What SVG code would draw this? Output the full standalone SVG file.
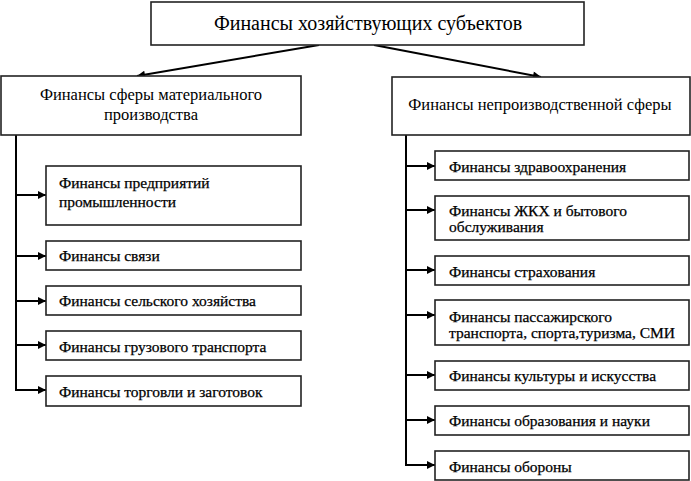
<svg xmlns="http://www.w3.org/2000/svg" width="691" height="481" viewBox="0 0 691 481">
<style>
.box{fill:#fff;stroke:#222;stroke-width:1.6}
.t{font-family:"Liberation Serif","Times New Roman",serif;fill:#000}
.big{font-size:20px}
.mid{font-size:16.5px}
.sm{font-size:15.5px;stroke:#000;stroke-width:0.25}
.c{stroke:#000;stroke-width:2;fill:none}
</style>
<defs>
<marker id="ah" viewBox="0 0 10 10" refX="10" refY="5" markerWidth="10" markerHeight="8" markerUnits="userSpaceOnUse" orient="auto">
<path d="M0,0 L10,5 L0,10 z" fill="#000"/>
</marker>
</defs>
<rect width="691" height="481" fill="#fff"/>
<g id="connectors">
<line class="c" x1="319" y1="45" x2="137" y2="76" marker-end="url(#ah)"/>
<line class="c" x1="374" y1="45" x2="541" y2="77" marker-end="url(#ah)"/>
<polyline class="c" points="16,135 16,390"/>
<line class="c" x1="16" y1="195" x2="46" y2="195" marker-end="url(#ah)"/>
<line class="c" x1="16" y1="256" x2="46" y2="256" marker-end="url(#ah)"/>
<line class="c" x1="16" y1="301" x2="46" y2="301" marker-end="url(#ah)"/>
<line class="c" x1="16" y1="345" x2="46" y2="345" marker-end="url(#ah)"/>
<line class="c" x1="15" y1="390" x2="46" y2="390" marker-end="url(#ah)"/>
<polyline class="c" points="406,135 406,465"/>
<line class="c" x1="406" y1="166" x2="435" y2="166" marker-end="url(#ah)"/>
<line class="c" x1="406" y1="210" x2="435" y2="210" marker-end="url(#ah)"/>
<line class="c" x1="406" y1="270" x2="435" y2="270" marker-end="url(#ah)"/>
<line class="c" x1="406" y1="315" x2="435" y2="315" marker-end="url(#ah)"/>
<line class="c" x1="406" y1="375" x2="435" y2="375" marker-end="url(#ah)"/>
<line class="c" x1="406" y1="420" x2="435" y2="420" marker-end="url(#ah)"/>
<line class="c" x1="405" y1="465" x2="435" y2="465" marker-end="url(#ah)"/>
</g>
<g id="root">
<rect class="box" x="151" y="2" width="433" height="43"/>
<text class="t big" x="368" y="30" text-anchor="middle">Финансы хозяйствующих субъектов</text>
</g>
<g id="material">
<rect class="box" x="1" y="76" width="300" height="59"/>
<text class="t mid" x="151" y="100" text-anchor="middle">Финансы сферы материального</text>
<text class="t mid" x="151" y="120" text-anchor="middle">производства</text>
</g>
<g id="nonprod">
<rect class="box" x="392" y="77" width="298" height="58"/>
<text class="t mid" x="540" y="110" text-anchor="middle">Финансы непроизводственной сферы</text>
</g>
<g id="l1">
<rect class="box" x="46" y="166" width="255" height="59"/>
<text class="t sm" x="59" y="188">Финансы предприятий</text>
<text class="t sm" x="59" y="207">промышленности</text>
</g>
<g id="l2">
<rect class="box" x="46" y="241" width="255" height="29"/>
<text class="t sm" x="59" y="261">Финансы связи</text>
</g>
<g id="l3">
<rect class="box" x="46" y="286" width="255" height="29"/>
<text class="t sm" x="59" y="306">Финансы сельского хозяйства</text>
</g>
<g id="l4">
<rect class="box" x="46" y="331" width="255" height="29"/>
<text class="t sm" x="59" y="352">Финансы грузового транспорта</text>
</g>
<g id="l5">
<rect class="box" x="46" y="376" width="255" height="30"/>
<text class="t sm" x="59" y="397">Финансы торговли и заготовок</text>
</g>
<g id="r1">
<rect class="box" x="435" y="151" width="254" height="29"/>
<text class="t sm" x="449" y="172">Финансы здравоохранения</text>
</g>
<g id="r2">
<rect class="box" x="435" y="196" width="254" height="44"/>
<text class="t sm" x="449" y="216">Финансы ЖКХ и бытового</text>
<text class="t sm" x="449" y="232">обслуживания</text>
</g>
<g id="r3">
<rect class="box" x="435" y="256" width="254" height="29"/>
<text class="t sm" x="449" y="277">Финансы страхования</text>
</g>
<g id="r4">
<rect class="box" x="435" y="300" width="254" height="45"/>
<text class="t sm" x="449" y="322">Финансы пассажирского</text>
<text class="t sm" x="449" y="338">транспорта, спорта,туризма, СМИ</text>
</g>
<g id="r5">
<rect class="box" x="435" y="361" width="254" height="29"/>
<text class="t sm" x="449" y="381">Финансы культуры и  искусства</text>
</g>
<g id="r6">
<rect class="box" x="435" y="406" width="254" height="29"/>
<text class="t sm" x="449" y="426">Финансы образования и науки</text>
</g>
<g id="r7">
<rect class="box" x="435" y="451" width="254" height="29"/>
<text class="t sm" x="449" y="472">Финансы обороны</text>
</g>
</svg>
